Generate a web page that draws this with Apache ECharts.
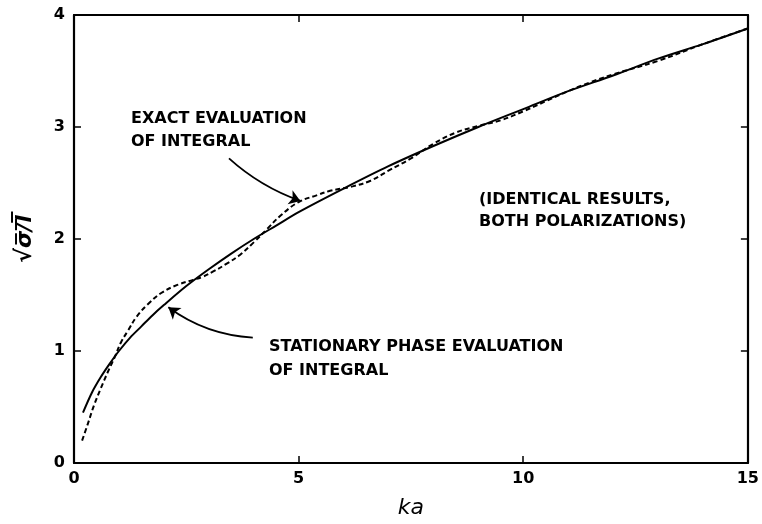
<!DOCTYPE html>
<html>
<head>
<meta charset="utf-8">
<script src="https://cdn.jsdelivr.net/npm/echarts@6/dist/echarts.min.js"></script>
<style>
  html, body { margin: 0; padding: 0; background: #fff; }
  #chart { width: 762px; height: 524px; }
</style>
</head>
<body>
<div id="chart"></div>
<script>
// stationary phase evaluation (solid)
const statKa = [0.2, 0.4, 0.6, 0.8, 1.0, 1.25, 1.5, 1.75, 2, 2.5, 3, 3.5, 4, 4.5, 5, 6, 7, 8, 9, 10, 11, 12, 13, 14, 15];
const statVal = [0.45, 0.63, 0.77, 0.89, 1.0, 1.12, 1.22, 1.32, 1.41, 1.58, 1.73, 1.87, 2.0, 2.12, 2.24, 2.45, 2.65, 2.83, 3.0, 3.16, 3.32, 3.46, 3.61, 3.74, 3.88];

// exact evaluation of integral (dashed)
const exactKa = [0.18, 0.3, 0.45, 0.6, 0.75, 0.9, 1.05, 1.2, 1.4, 1.65, 1.95, 2.3, 2.65, 2.85, 3.1, 3.4, 3.7, 4.0, 4.3, 4.6, 5.0, 5.4, 5.7, 6.2, 6.6, 7.0, 7.5, 8, 8.5, 9, 9.5, 10, 10.5, 11, 11.5, 12, 13, 14, 15];
const exactVal = [0.2, 0.34, 0.52, 0.67, 0.81, 0.94, 1.08, 1.18, 1.31, 1.42, 1.52, 1.59, 1.635, 1.66, 1.71, 1.78, 1.86, 1.97, 2.09, 2.21, 2.33, 2.39, 2.43, 2.47, 2.52, 2.61, 2.72, 2.85, 2.95, 3.01, 3.06, 3.14, 3.23, 3.32, 3.40, 3.47, 3.59, 3.74, 3.88];

const xTicks = [0, 5, 10, 15];
const yTicks = [0, 1, 2, 3, 4];

// annotation arrows: [tail, tip] in (ka, value)
const exactArrow = [[3.45, 2.72], [5.04, 2.34]];
const statArrow = [[3.98, 1.12], [2.10, 1.39]];

const chart = echarts.init(document.getElementById('chart'));
const ff = '"DejaVu Sans", sans-serif';
const axisLine = { show: true, onZero: false, lineStyle: { color: '#000', width: 2.2 } };
const tickIn = { show: true, inside: true, length: 7, lineStyle: { color: '#000', width: 1.5 } };

const option = {
  animation: false,
  backgroundColor: '#fff',
  grid: { left: 74, right: 10, top: 15, bottom: 57, containLabel: false },
  xAxis: [{
    type: 'value', min: 0, max: 15, interval: 5,
    axisLine: axisLine, axisTick: tickIn, splitLine: { show: false },
    axisLabel: { color: '#000', fontFamily: ff, fontWeight: 'bold', fontSize: 16, margin: 8 },
    name: 'ka', nameLocation: 'middle', nameGap: 34,
    nameTextStyle: { color: '#000', fontFamily: ff, fontStyle: 'italic', fontSize: 22 }
  }, {
    type: 'value', min: 0, max: 15, interval: 5, position: 'top',
    axisLine: axisLine, axisTick: tickIn, axisLabel: { show: false }, splitLine: { show: false }
  }],
  yAxis: [{
    type: 'value', min: 0, max: 4, interval: 1,
    axisLine: axisLine, axisTick: tickIn, splitLine: { show: false },
    axisLabel: { color: '#000', fontFamily: ff, fontWeight: 'bold', fontSize: 16, margin: 9 },
    name: '\u221A\u03C3\u0305/\u0305l\u0305', nameLocation: 'middle', nameGap: 38, nameRotate: 90,
    nameTextStyle: { color: '#000', fontFamily: ff, fontStyle: 'italic', fontWeight: 'bold', fontSize: 22 }
  }, {
    type: 'value', min: 0, max: 4, interval: 1, position: 'right',
    axisLine: axisLine, axisTick: tickIn, axisLabel: { show: false }, splitLine: { show: false }
  }],
  series: [{
    name: 'Stationary phase', type: 'line', smooth: 0.3, symbol: 'none',
    data: statKa.map((k, i) => [k, statVal[i]]),
    lineStyle: { color: '#000', width: 2 }
  }, {
    name: 'Exact', type: 'line', smooth: 0.4, symbol: 'none',
    data: exactKa.map((k, i) => [k, exactVal[i]]),
    lineStyle: { color: '#000', width: 2, type: [5, 3] }
  }, {
    type: 'lines', coordinateSystem: 'cartesian2d', symbol: ['none', 'arrow'], symbolSize: 11,
    lineStyle: { color: '#000', width: 1.8, opacity: 1 },
    data: [
      { coords: exactArrow, lineStyle: { curveness: -0.1 } },
      { coords: statArrow, lineStyle: { curveness: 0.15 } }
    ]
  }],
  graphic: [
    { type: 'text', left: 131, top: 107, style: { text: 'EXACT EVALUATION\nOF INTEGRAL', font: 'bold 16px ' + ff, fill: '#000', lineHeight: 23 } },
    { type: 'text', left: 269, top: 335, style: { text: 'STATIONARY PHASE EVALUATION\nOF INTEGRAL', font: 'bold 16px ' + ff, fill: '#000', lineHeight: 24 } },
    { type: 'text', left: 479, top: 189, style: { text: '(IDENTICAL RESULTS,\nBOTH POLARIZATIONS)', font: 'bold 16px ' + ff, fill: '#000', lineHeight: 22 } }
  ]
};
chart.setOption(option);
</script>
</body>
</html>
